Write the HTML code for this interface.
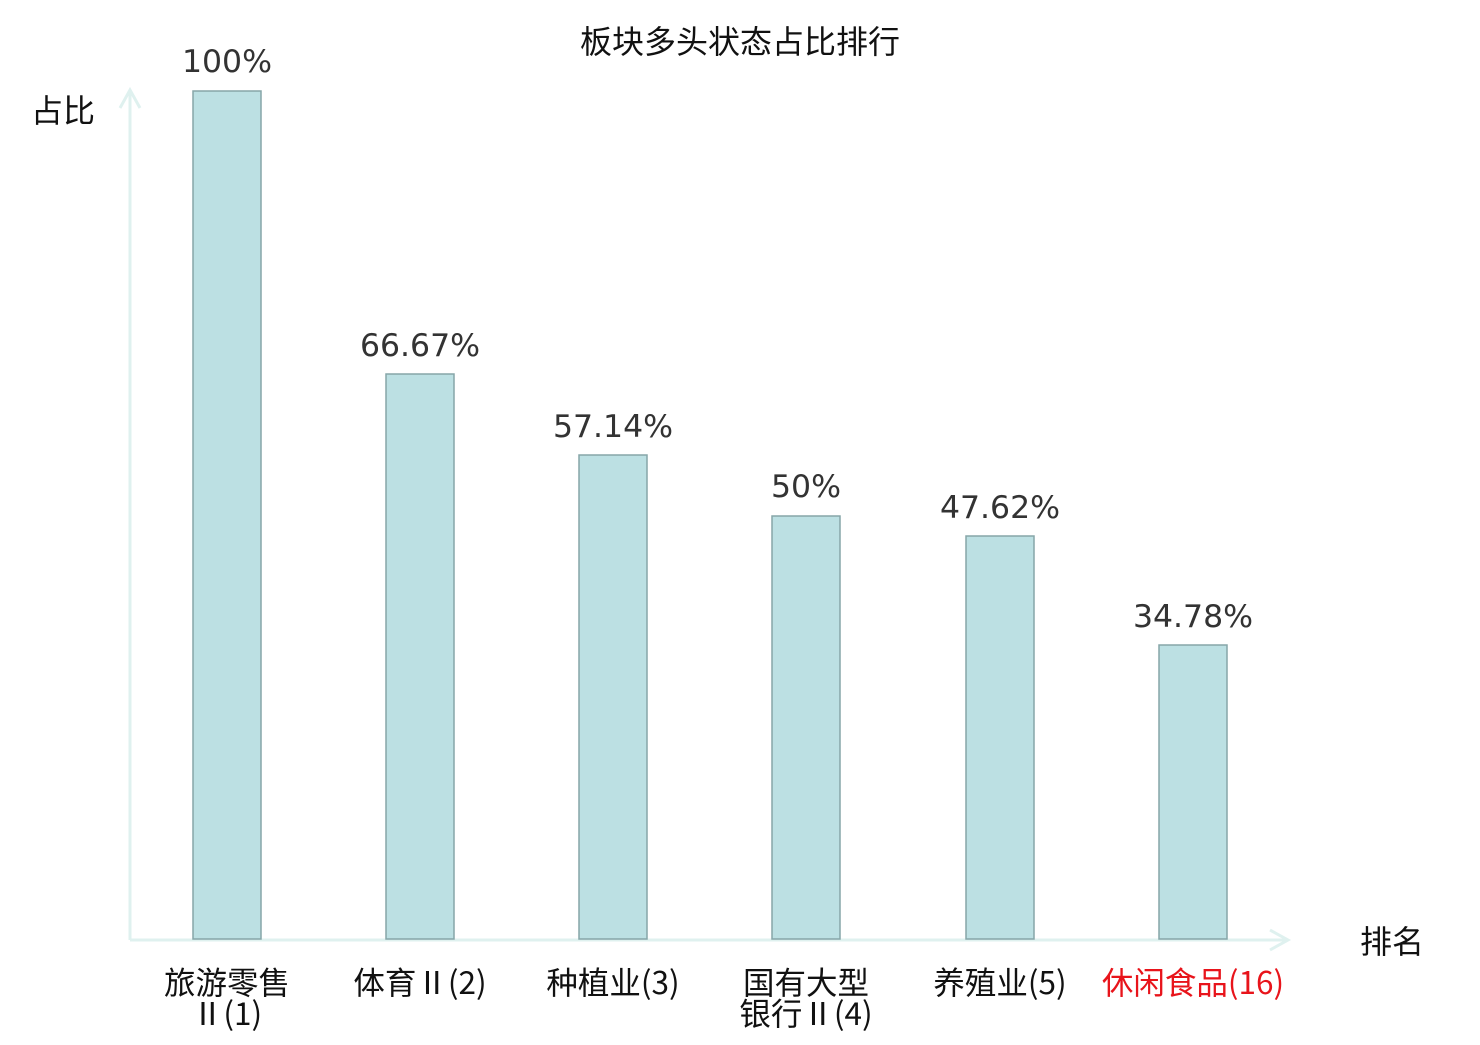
<!DOCTYPE html>
<html><head><meta charset="utf-8"><style>body{margin:0;background:#fff}</style></head><body>
<svg width="1480" height="1040" xmlns="http://www.w3.org/2000/svg" font-family="'DejaVu Sans','Noto Sans CJK SC',sans-serif">
<text x="740" y="53" font-size="32" text-anchor="middle" fill="#111">板块多头状态占比排行</text>
<text x="63" y="122" font-size="32" text-anchor="middle" fill="#111">占比</text>
<text x="1392" y="953" font-size="32" text-anchor="middle" fill="#111">排名</text>
<g stroke="#dff1ef" stroke-width="3" fill="none">
<line x1="130" y1="940" x2="130" y2="90"/>
<polyline points="120,108 130,90 140,108"/>
<line x1="130" y1="940" x2="1288" y2="940"/>
<polyline points="1270,930 1288,940 1270,950"/>
</g>
<g fill="#bce0e3" stroke="#86a6a8" stroke-width="1.5">
<rect x="193" y="91" width="68" height="848"/>
<rect x="386" y="374" width="68" height="565"/>
<rect x="579" y="455" width="68" height="484"/>
<rect x="772" y="516" width="68" height="423"/>
<rect x="966" y="536" width="68" height="403"/>
<rect x="1159" y="645" width="68" height="294"/>
</g>
<g font-size="31.5" fill="#333" text-anchor="middle">
<text x="227" y="72">100%</text>
<text x="420" y="356">66.67%</text>
<text x="613" y="437">57.14%</text>
<text x="806" y="497">50%</text>
<text x="1000" y="518">47.62%</text>
<text x="1193" y="627">34.78%</text>
</g>
<g font-size="31.5" fill="#111" text-anchor="middle" font-family="'DejaVu Sans ExtraLight','Noto Sans CJK SC',sans-serif">
<text x="227" y="994">旅游零售</text>
<text x="227" y="1025">Ⅱ(1)</text>
<text x="420" y="994">体育Ⅱ(2)</text>
<text x="613" y="994">种植业(3)</text>
<text x="806" y="994">国有大型</text>
<text x="806" y="1025">银行Ⅱ(4)</text>
<text x="1000" y="994">养殖业(5)</text>
<text x="1193" y="994" fill="#e8141b">休闲食品(16)</text>
</g>
</svg>
</body></html>
